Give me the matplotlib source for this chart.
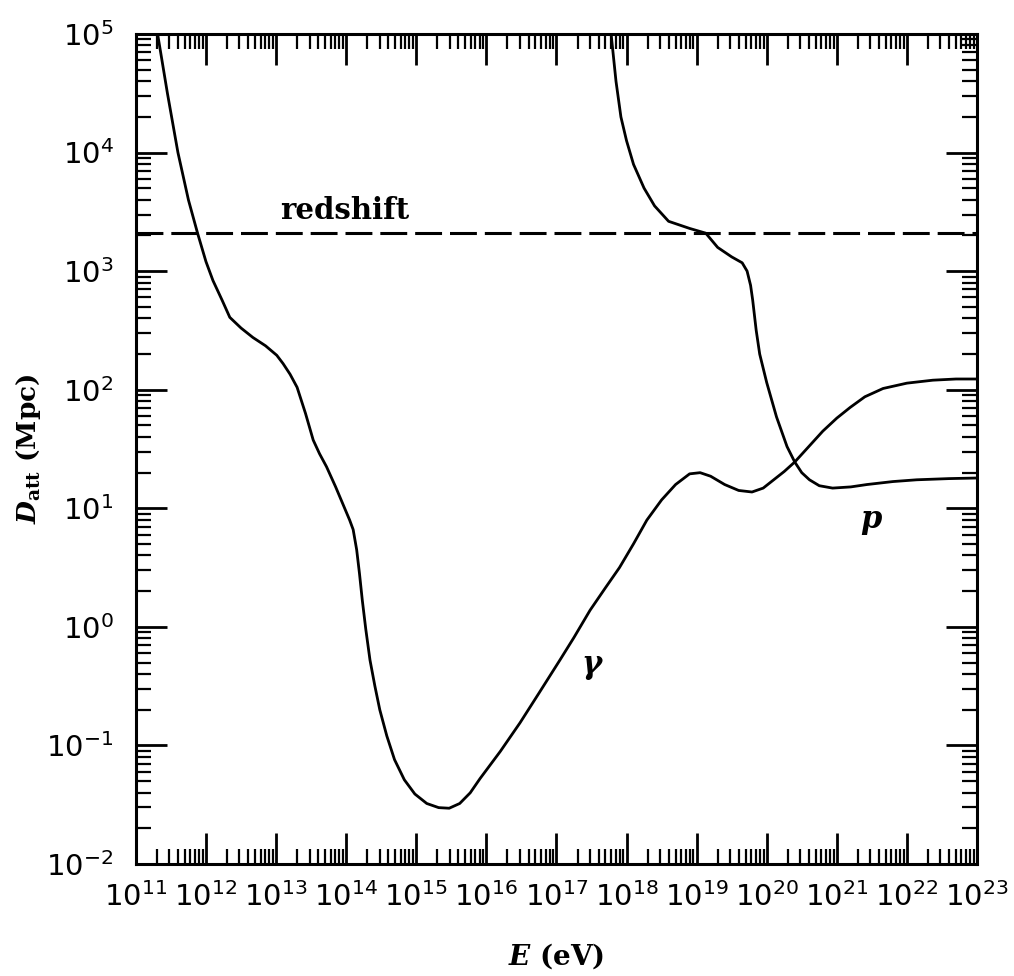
import numpy as np
import matplotlib
matplotlib.use('Agg')
import matplotlib.pyplot as plt
from matplotlib.ticker import LogLocator, FixedLocator, NullFormatter

plt.rcParams['mathtext.fontset'] = 'custom'
plt.rcParams['mathtext.rm'] = 'DejaVu Serif:bold'
plt.rcParams['mathtext.bf'] = 'DejaVu Serif:bold'
plt.rcParams['mathtext.it'] = 'DejaVu Serif:italic:bold'
plt.rcParams['mathtext.sf'] = 'DejaVu Sans'

# gamma-ray attenuation length, log10(E/eV) vs log10(D/Mpc)
gamma_logE = [11.31, 11.45, 11.6, 11.75, 11.88, 12.0, 12.1, 12.23, 12.34, 12.5,
              12.67, 12.85, 13.01, 13.10, 13.2, 13.30, 13.42, 13.53, 13.62, 13.72,
              13.85, 13.95, 14.05, 14.10, 14.15, 14.19, 14.23, 14.28, 14.34, 14.41,
              14.48, 14.58, 14.69, 14.83, 14.98, 15.15, 15.32, 15.47, 15.62, 15.77,
              15.91, 16.2, 16.48, 16.75, 17.05, 17.25, 17.48, 17.70, 17.90, 18.1,
              18.29, 18.5, 18.7, 18.9, 19.05, 19.2, 19.4, 19.6, 19.79, 19.95,
              20.1, 20.25, 20.40, 20.6, 20.8, 21.0, 21.19, 21.4, 21.66, 22.0,
              22.37, 22.7, 23.0]
gamma_logD = [5.0, 4.5, 4.0, 3.6, 3.32, 3.08, 2.92, 2.755, 2.61, 2.52,
              2.44, 2.37, 2.29, 2.22, 2.13, 2.02, 1.80, 1.575, 1.46, 1.35,
              1.18, 1.04, 0.90, 0.82, 0.65, 0.45, 0.226, -0.02, -0.28, -0.50,
              -0.70, -0.92, -1.12, -1.29, -1.41, -1.49, -1.525, -1.53, -1.49, -1.40,
              -1.28, -1.05, -0.81, -0.56, -0.28, -0.09, 0.14, 0.33, 0.50, 0.70,
              0.90, 1.07, 1.20, 1.29, 1.30, 1.27, 1.20, 1.15, 1.137, 1.17,
              1.24, 1.31, 1.39, 1.52, 1.65, 1.76, 1.85, 1.94, 2.01, 2.055,
              2.08, 2.09, 2.09]

# proton attenuation length
p_logE = [17.78, 17.85, 17.92, 18.0, 18.1, 18.25, 18.4, 18.6, 18.9, 19.13,
          19.3, 19.5, 19.65, 19.72, 19.77, 19.80, 19.85, 19.9, 20.0, 20.14,
          20.29, 20.40, 20.5, 20.61, 20.75, 20.94, 21.2, 21.43, 21.8, 22.14,
          22.6, 23.0]
p_logD = [5.0, 4.6, 4.3, 4.1, 3.9, 3.7, 3.55, 3.42, 3.36, 3.32,
          3.20, 3.12, 3.07, 3.0, 2.88, 2.755, 2.5, 2.3, 2.06, 1.77,
          1.52, 1.39, 1.30, 1.24, 1.19, 1.17, 1.18, 1.20, 1.225, 1.24,
          1.25, 1.255]

redshift_D = 2100.0
x_decades = list(range(11, 24))
y_decades = list(range(-2, 6))

fig = plt.figure(figsize=(10.14, 9.76), dpi=100)
ax = fig.add_axes([0.134, 0.1148, 0.8295, 0.8504])

ax.plot(10.0 ** np.array(gamma_logE), 10.0 ** np.array(gamma_logD), color='black', lw=2.0)
ax.plot(10.0 ** np.array(p_logE), 10.0 ** np.array(p_logD), color='black', lw=2.0)
ax.axhline(redshift_D, color='black', lw=2.2, dashes=(8.8, 2.6))

ax.set_xscale('log')
ax.set_yscale('log')
ax.set_xlim(1e11, 1e23)
ax.set_ylim(1e-2, 1e5)

ax.xaxis.set_major_locator(FixedLocator([10.0 ** k for k in x_decades]))
ax.yaxis.set_major_locator(FixedLocator([10.0 ** k for k in y_decades]))
ax.xaxis.set_minor_locator(LogLocator(base=10, subs=np.arange(2, 10), numticks=100))
ax.yaxis.set_minor_locator(LogLocator(base=10, subs=np.arange(2, 10), numticks=100))
ax.xaxis.set_minor_formatter(NullFormatter())
ax.yaxis.set_minor_formatter(NullFormatter())
ax.set_xticklabels([r'$\mathsf{10^{%d}}$' % k for k in x_decades], fontsize=21)
ax.set_yticklabels([r'$\mathsf{10^{%d}}$' % k for k in y_decades], fontsize=21)

ax.tick_params(which='major', direction='in', length=22, width=2.0,
               top=True, right=True)
ax.tick_params(which='minor', direction='in', length=11, width=1.6,
               top=True, right=True)
ax.tick_params(axis='x', which='major', pad=13)
ax.tick_params(axis='y', which='major', pad=16)
for s in ax.spines.values():
    s.set_linewidth(2.2)

ax.text(10 ** 13.98, 10 ** 3.44, 'redshift', fontsize=21, fontweight='bold',
        family='DejaVu Serif', ha='center', va='baseline')
ax.text(10 ** 17.52, 10 ** -0.34, r'$\gamma$', fontsize=22, ha='center', va='center')
ax.text(10 ** 21.5, 10 ** 0.88, r'$p$', fontsize=22, ha='center', va='center')

ax.set_xlabel(r'$E$ (eV)', fontsize=20, fontweight='bold', family='DejaVu Serif',
              labelpad=21)
ax.set_ylabel(r'$D_{\rm att}$ (Mpc)', fontsize=19, fontweight='bold',
              family='DejaVu Serif', labelpad=2)

fig.savefig('out.png', dpi=100)
